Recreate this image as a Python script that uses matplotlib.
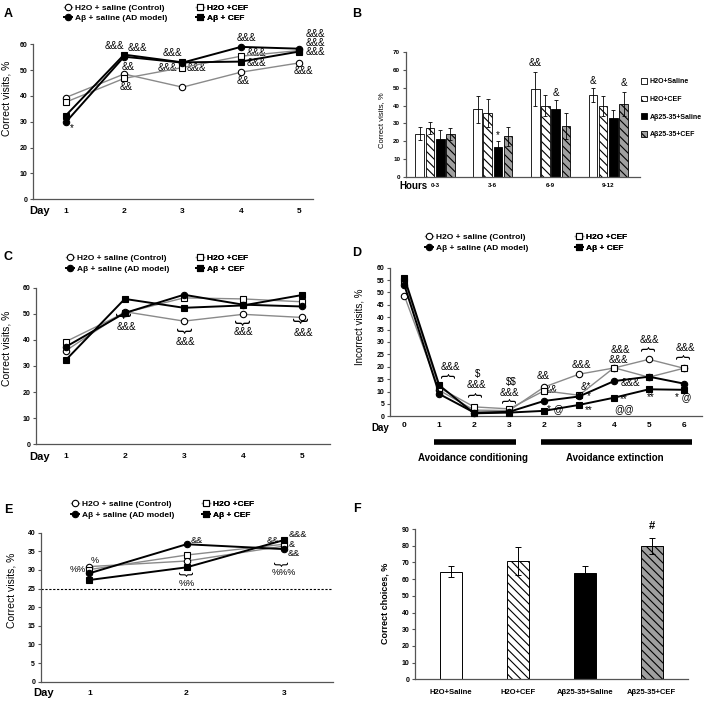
import numpy as np
import matplotlib
matplotlib.use('Agg')
import matplotlib.pyplot as plt
from matplotlib.lines import Line2D
from matplotlib.patches import Patch
from matplotlib.transforms import blended_transform_factory

plt.rcParams['font.family'] = ['Liberation Sans', 'DejaVu Sans']
plt.rcParams['hatch.linewidth'] = 0.8
plt.rcParams['text.parse_math'] = False

W, H = 708, 702

# ---------------- data ----------------
line_labels = ['H2O + saline (Control)', 'H2O +CEF', 'Aβ + saline (AD model)', 'Aβ + CEF']

# panel A
A_days = [1, 2, 3, 4, 5]
A_h2o_sal = [39.4, 48.5, 43.4, 49.2, 52.8]
A_h2o_cef = [37.6, 46.8, 51.0, 55.4, 57.6]
A_ab_sal = [29.8, 55.2, 52.9, 59.0, 58.3]
A_ab_cef = [32.4, 56.0, 53.0, 53.3, 57.2]
A_marks = [('*', 1.10, 27.5), ('&&&', 1.84, 59.4), ('&&&', 2.22, 58.5), ('&&', 2.07, 51.4),
           ('&&', 2.04, 43.4), ('&&&', 2.83, 56.5), ('&&&', 2.74, 50.7), ('&&&', 3.24, 50.7),
           ('&&&', 4.10, 62.6), ('&&&', 4.27, 56.8), ('&&&', 4.27, 52.9), ('&&', 4.04, 45.8),
           ('&&&', 5.27, 63.9), ('&&&', 5.27, 60.4), ('&&&', 5.27, 56.9), ('&&&', 5.07, 49.8)]

# panel B
B_groups = ['0-3', '3-6', '6-9', '9-12']
B_labels = ['H2O+Saline', 'H2O+CEF', 'Aβ25-35+Saline', 'Aβ25-35+CEF']
B_h2o_sal = [24.2, 37.9, 49.2, 45.9]
B_h2o_sal_err = [3.7, 7.5, 9.5, 3.8]
B_h2o_cef = [27.5, 36.0, 39.8, 39.9]
B_h2o_cef_err = [3.2, 7.9, 5.9, 5.6]
B_ab_sal = [21.4, 16.7, 38.1, 33.2]
B_ab_sal_err = [5.0, 3.7, 4.8, 4.5]
B_ab_cef = [24.0, 22.7, 28.6, 40.9]
B_ab_cef_err = [3.2, 5.2, 7.1, 6.5]
# (text, group, bar index, y)
B_marks = [('*', 1, 2, 23.5), ('&&', 2, 0, 64.0), ('&', 2, 2, 47.2), ('&', 3, 0, 53.9), ('&', 3, 3, 52.5)]

# panel C
C_days = [1, 2, 3, 4, 5]
C_h2o_sal = [35.8, 50.8, 47.2, 49.8, 48.6]
C_h2o_cef = [39.3, 50.4, 56.1, 55.7, 54.6]
C_ab_sal = [37.3, 50.3, 57.3, 53.5, 52.8]
C_ab_cef = [32.2, 55.7, 52.3, 53.2, 57.2]
C_braces = [(2.0, 49.3), (3.02, 43.6), (4.0, 46.8), (4.99, 47.4)]
C_marks = [('&&&', 2.02, 45.1), ('&&&', 3.02, 39.3), ('&&&', 4.0, 43.2), ('&&&', 5.02, 42.8)]

# panel D
D_ticklabels = ['0', '1', '2', '3', '2', '3', '4', '5', '6']
D_h2o_sal = [48.7, 10.5, 2.5, 2.3, 11.8, 17.0, 19.5, 23.0, 19.4]
D_h2o_cef = [54.8, 11.5, 3.8, 3.0, 10.3, 8.5, 19.6, 15.8, 19.4]
D_ab_sal = [53.0, 9.0, 1.5, 1.8, 6.2, 8.0, 14.2, 16.0, 13.2]
D_ab_cef = [56.0, 12.5, 1.2, 1.5, 2.2, 4.6, 7.5, 10.9, 10.7]
D_braces = [(1.28, 16.3), (2.05, 8.9), (3.02, 6.6), (7.0, 27.3), (8.0, 24.1)]
D_marks = [('&&&', 1.31, 20.0), ('$', 2.09, 17.1), ('&&&', 2.05, 12.6), ('$$', 3.07, 14.0),
           ('&&&', 3.02, 9.5), ('&&', 3.98, 16.3), ('&&', 4.19, 10.6), ('* @', 4.31, 2.8),
           ('&&&', 5.07, 20.6), ('&*', 5.20, 12.0), ('*', 5.27, 8.0), ('**', 5.28, 2.5),
           ('&&&', 6.19, 26.8), ('&&&', 6.12, 22.7), ('&&&', 6.46, 13.3), ('**', 6.29, 6.9),
           ('@@', 6.29, 3.0), ('&&&', 7.0, 30.8), ('**', 7.05, 7.9), ('&&&', 8.05, 27.4),
           ('* @', 7.98, 7.9)]
D_phases = [('Avoidance conditioning', 0.85, 3.2, 1.96), ('Avoidance extinction', 3.91, 8.23, 6.03)]

# panel E
E_days = [1, 2, 3]
E_h2o_sal = [30.9, 32.4, 36.4]
E_h2o_cef = [30.1, 34.0, 36.9]
E_ab_sal = [29.1, 36.9, 35.6]
E_ab_cef = [27.3, 30.7, 38.0]
E_braces = [(2.0, 29.1), (2.98, 31.7)]
E_marks = [('%%', 0.88, 30.2), ('%', 1.06, 32.5), ('&&', 2.11, 37.8), ('%%', 2.0, 26.4),
           ('&&', 2.89, 37.8), ('&&&', 3.15, 39.6), ('&', 3.08, 36.7), ('&&', 3.10, 34.5),
           ('%%%', 3.0, 29.4)]
E_chance = 25

# panel F
F_groups = ['H2O+Saline', 'H2O+CEF', 'Aβ25-35+Saline', 'Aβ25-35+CEF']
F_vals = [64.5, 71.0, 63.8, 79.8]
F_err = [3.2, 8.4, 4.1, 4.6]
F_marks = [('#', 3, 92.0)]

# ---------------- styles ----------------
GRAY = '#8a8a8a'
line_styles = [
    dict(color=GRAY, lw=1.0, marker='o', ms=4.6, mfc='white', mec='black', mew=0.8),
    dict(color=GRAY, lw=1.0, marker='s', ms=4.2, mfc='white', mec='black', mew=0.8),
    dict(color='black', lw=1.4, marker='o', ms=4.6, mfc='black', mec='black', mew=0.8),
    dict(color='black', lw=1.4, marker='s', ms=4.2, mfc='black', mec='black', mew=0.8),
]
bar_styles = [
    dict(facecolor='white', hatch=None),
    dict(facecolor='white', hatch='\\\\\\\\'),
    dict(facecolor='black', hatch=None),
    dict(facecolor='#a0a0a0', hatch='\\\\\\\\'),
]

fig = plt.figure(figsize=(W / 100, H / 100), dpi=100)


def px(x, y):
    return x / W, 1 - y / H


def new_axes(l, t, r, b):
    ax = fig.add_axes([l / W, 1 - b / H, (r - l) / W, (b - t) / H])
    for s in ['top', 'right']:
        ax.spines[s].set_visible(False)
    for s in ['left', 'bottom']:
        ax.spines[s].set_color('#555555')
        ax.spines[s].set_linewidth(0.9)
    ax.tick_params(axis='x', length=0, pad=6)
    ax.tick_params(axis='y', length=2.5, width=0.8, pad=1.5, color='#555555')
    return ax


def set_ticks(ax, xt, xl, yt, xsize=6, ysize=5):
    ax.set_xticks(xt, labels=xl, fontsize=xsize, fontweight='bold')
    ax.set_yticks(yt, labels=[str(v) for v in yt], fontsize=ysize, fontweight='bold')


def draw_lines(ax, xs, series):
    for ys, st in zip(series, line_styles):
        ax.plot(xs, ys, clip_on=False, zorder=3, **st)


def legend4(ax, x1, x2, ymid):
    handles = [Line2D([], [], **st) for st in line_styles]
    for cols, x in (([0, 2], x1), ([1, 3], x2)):
        leg = ax.legend([handles[i] for i in cols], [line_labels[i] for i in cols],
                        loc='center left', bbox_to_anchor=px(x, ymid),
                        bbox_transform=fig.transFigure, frameon=False,
                        prop={'weight': 'bold', 'size': 6}, handlelength=1.0,
                        handletextpad=0.3, labelspacing=0.35, borderpad=0,
                        borderaxespad=0, numpoints=1)
        ax.add_artist(leg)


def put_marks(ax, marks, size=7):
    for t, x, y in marks:
        ax.text(x, y, t, ha='center', va='center', fontsize=size, clip_on=False, zorder=2)


def braces(ax, pts, up, size=11):
    for x, y in pts:
        ax.text(x, y, '}' if up else '{', rotation=90, ha='center', va='center',
                fontsize=size, clip_on=False)


def ftext(x, y, s, **kw):
    fig.text(*px(x, y), s, ha='center', va='center', **kw)


# ---------------- A ----------------
axA = new_axes(33.3, 44.3, 313.3, 199.3)
draw_lines(axA, A_days, [A_h2o_sal, A_h2o_cef, A_ab_sal, A_ab_cef])
axA.set_xlim(0.445, 5.24)
axA.set_ylim(0, 60)
set_ticks(axA, A_days, [str(d) for d in A_days], range(0, 61, 10))
put_marks(axA, A_marks)
legend4(axA, 64, 196, 13)
ftext(8.3, 14, 'A', fontsize=9, fontweight='bold')
ftext(40, 211, 'Day', fontsize=8, fontweight='bold')
ftext(6.7, 98, 'Correct visits, %', fontsize=7.5, rotation=90)

# ---------------- B ----------------
axB = new_axes(405.7, 52, 640, 177)
step, bw = 0.177, 0.15
gx = np.arange(len(B_groups))
B_series = [(B_h2o_sal, B_h2o_sal_err), (B_h2o_cef, B_h2o_cef_err),
            (B_ab_sal, B_ab_sal_err), (B_ab_cef, B_ab_cef_err)]
for i, ((vals, err), st) in enumerate(zip(B_series, bar_styles)):
    xs = gx + (i - 1.5) * step
    axB.bar(xs, vals, width=bw, edgecolor='black', linewidth=0.6, label=B_labels[i], **st)
    axB.errorbar(xs, vals, yerr=err, fmt='none', ecolor='black', elinewidth=0.6, capsize=1.5, capthick=0.6)
for t, g, bi, y in B_marks:
    axB.text(g + (bi - 1.5) * step, y, t, ha='center', va='center', fontsize=7, clip_on=False)
axB.set_xlim(-0.51, 3.55)
axB.set_ylim(0, 70)
set_ticks(axB, gx, B_groups, range(0, 71, 10), xsize=4.5, ysize=4.5)
axB.tick_params(axis='x', pad=4)
bh = [Patch(edgecolor='black', linewidth=0.6, **st) for st in bar_styles]
axB.legend(bh, B_labels, loc='upper left', bbox_to_anchor=px(641, 78), bbox_transform=fig.transFigure,
           frameon=False, prop={'weight': 'bold', 'size': 5}, handlelength=0.9, handleheight=0.9,
           handletextpad=0.3, labelspacing=1.5, borderpad=0, borderaxespad=0)
ftext(357, 14, 'B', fontsize=9, fontweight='bold')
ftext(413, 186, 'Hours', fontsize=7, fontweight='bold')
ftext(381.7, 120, 'Correct visits, %', fontsize=5.5, rotation=90)

# ---------------- C ----------------
axC = new_axes(36, 287.7, 330, 444.3)
draw_lines(axC, C_days, [C_h2o_sal, C_h2o_cef, C_ab_sal, C_ab_cef])
axC.set_xlim(0.5, 5.47)
axC.set_ylim(0, 60)
set_ticks(axC, C_days, [str(d) for d in C_days], range(0, 61, 10))
braces(axC, C_braces, up=False, size=12)
put_marks(axC, C_marks)
legend4(axC, 66, 196, 263.3)
ftext(8.3, 256.7, 'C', fontsize=9, fontweight='bold')
ftext(40, 456.7, 'Day', fontsize=8, fontweight='bold')
ftext(6.7, 348, 'Correct visits, %', fontsize=7.5, rotation=90)

# ---------------- D ----------------
axD = new_axes(390, 267.7, 702, 416.3)
dx = np.arange(len(D_ticklabels))
put_marks(axD, D_marks)
draw_lines(axD, dx, [D_h2o_sal, D_h2o_cef, D_ab_sal, D_ab_cef])
axD.set_xlim(-0.41, 8.52)
axD.set_ylim(0, 60)
set_ticks(axD, dx, D_ticklabels, range(0, 61, 5))
axD.tick_params(axis='x', pad=4)
braces(axD, D_braces, up=True, size=11)
trD = blended_transform_factory(axD.transData, axD.transAxes)
for name, x0, x1, xc in D_phases:
    axD.plot([x0, x1], [-0.173, -0.173], color='black', lw=4, transform=trD, clip_on=False,
             solid_capstyle='butt')
    axD.text(xc, -0.28, name, transform=trD, ha='center', va='center', fontsize=7, fontweight='bold')
legend4(axD, 425, 575, 242.8)
ftext(357, 253, 'D', fontsize=9, fontweight='bold')
ftext(380, 428, 'Day', fontsize=7, fontweight='bold')
ftext(359, 327, 'Incorrect visits, %', fontsize=7, rotation=90)

# ---------------- E ----------------
axE = new_axes(40.7, 532.7, 333.3, 681.7)
axE.axhline(E_chance, color='black', lw=0.8, ls=(0, (2, 1.5)), zorder=1)
draw_lines(axE, E_days, [E_h2o_sal, E_h2o_cef, E_ab_sal, E_ab_cef])
axE.set_xlim(0.5, 3.51)
axE.set_ylim(0, 40)
set_ticks(axE, E_days, [str(d) for d in E_days], range(0, 41, 5))
braces(axE, E_braces, up=False, size=10)
put_marks(axE, E_marks, size=6.5)
legend4(axE, 71, 202, 509.7)
ftext(8.3, 510, 'E', fontsize=9, fontweight='bold')
ftext(43.3, 693.3, 'Day', fontsize=8, fontweight='bold')
ftext(11.7, 590, 'Correct visits, %', fontsize=7.5, rotation=90)

# ---------------- F ----------------
axF = new_axes(415, 529, 688, 679.3)
fx = np.arange(len(F_groups))
for i in fx:
    axF.bar(fx[i], F_vals[i], width=0.32, edgecolor='black', linewidth=0.7, **bar_styles[i])
axF.errorbar(fx, F_vals, yerr=F_err, fmt='none', ecolor='black', elinewidth=0.7, capsize=2, capthick=0.7)
for t, i, y in F_marks:
    axF.text(fx[i], y, t, ha='center', va='center', fontsize=8, fontweight='bold', clip_on=False)
axF.set_xlim(-0.54, 3.54)
axF.set_ylim(0, 90)
set_ticks(axF, fx, F_groups, range(0, 91, 10), xsize=5.5, ysize=5)
axF.tick_params(axis='x', pad=7)
ftext(357, 509, 'F', fontsize=9, fontweight='bold')
ftext(385, 603, 'Correct choices, %', fontsize=6.5, fontweight='bold', rotation=90)

fig.savefig('out.png', dpi=100)
